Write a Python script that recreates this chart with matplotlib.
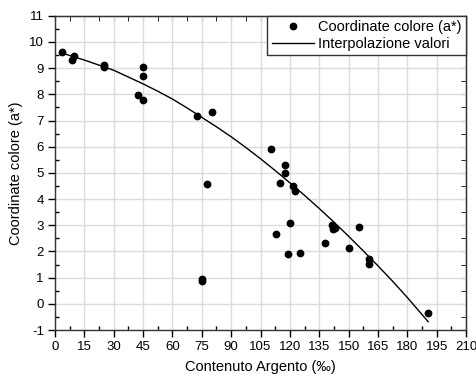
import numpy as np
import matplotlib
matplotlib.use('Agg')
import matplotlib.pyplot as plt
from matplotlib.ticker import MultipleLocator

plt.rcParams['font.family'] = ['Liberation Sans', 'DejaVu Sans']
plt.rcParams['axes.unicode_minus'] = False

# measured points: silver content (per mille) vs a* colour coordinate
argento = [3.7, 8.7, 9.9, 24.8, 25.1, 42.5, 45.1, 45.1, 45.2, 72.6, 75.1, 75.1,
           77.7, 80.3, 110.5, 112.7, 115.1, 117.7, 117.7, 119.0, 120.2, 121.8,
           122.8, 125.2, 137.8, 141.5, 142.0, 143.0, 150.3, 155.4, 160.3, 160.5,
           190.6]
colore_a = [9.60, 9.32, 9.46, 9.05, 9.13, 7.98, 9.04, 8.69, 7.77, 7.17, 0.95, 0.88,
            4.57, 7.32, 5.91, 2.66, 4.62, 5.32, 4.98, 1.89, 3.10, 4.50,
            4.31, 1.93, 2.31, 3.01, 2.87, 2.90, 2.12, 2.92, 1.53, 1.72,
            -0.34]

# interpolation curve
interp_x = [3.4, 15, 30, 45, 52.5, 60, 67.5, 75, 82.5, 90, 97.5, 105, 112.5,
            120, 127.5, 135, 142.5, 150, 157.5, 165, 172.5, 180, 190.6]
interp_y = [9.58, 9.31, 8.92, 8.40, 8.12, 7.82, 7.48, 7.12, 6.76, 6.38, 5.97, 5.54, 5.09,
            4.62, 4.14, 3.64, 3.12, 2.58, 2.02, 1.45, 0.86, 0.24, -0.68]

fig = plt.figure(figsize=(4.77, 3.76), dpi=100)
ax = fig.add_axes([0.1153, 0.1223, 0.8618, 0.8357])

ax.plot(argento, colore_a, 'o', color='black', markersize=4.6, label='Coordinate colore (a*)', zorder=3)
ax.plot(interp_x, interp_y, '-', color='black', linewidth=1.0, label='Interpolazione valori', zorder=2)

ax.set_xlim(0, 210)
ax.set_ylim(-1, 11)
ax.xaxis.set_major_locator(MultipleLocator(15))
ax.xaxis.set_minor_locator(MultipleLocator(7.5))
ax.yaxis.set_major_locator(MultipleLocator(1))
ax.yaxis.set_minor_locator(MultipleLocator(0.5))

ax.grid(True, which='major', color='#dcdcdc', linewidth=1.0, zorder=0)
ax.set_axisbelow(True)

ax.tick_params(which='major', direction='out', length=5, width=1.0, labelsize=9.5, pad=3)
ax.tick_params(which='minor', direction='in', length=3, width=1.0)

# top and right axes with inward ticks, no labels
top = ax.secondary_xaxis('top')
top.xaxis.set_major_locator(MultipleLocator(15))
top.xaxis.set_minor_locator(MultipleLocator(7.5))
top.tick_params(which='both', direction='in', length=3.5, labeltop=False)
right = ax.secondary_yaxis('right')
right.yaxis.set_major_locator(MultipleLocator(1))
right.yaxis.set_minor_locator(MultipleLocator(0.5))
right.tick_params(which='both', direction='in', length=3.5, labelright=False)

for s in ax.spines.values():
    s.set_linewidth(1.0)
    s.set_color('#333333')

ax.set_xlabel('Contenuto Argento (‰)', fontsize=10.5, labelpad=5)
ax.set_ylabel('Coordinate colore (a*)', fontsize=10.5, labelpad=4)

leg = ax.legend(loc='upper right', fontsize=10.5, frameon=True, fancybox=False,
                edgecolor='#333333', framealpha=1, borderaxespad=0,
                handlelength=2.9, handletextpad=0.3, borderpad=0.3, labelspacing=0.2)
leg.get_frame().set_linewidth(1.0)

fig.savefig('out.png', dpi=100)
